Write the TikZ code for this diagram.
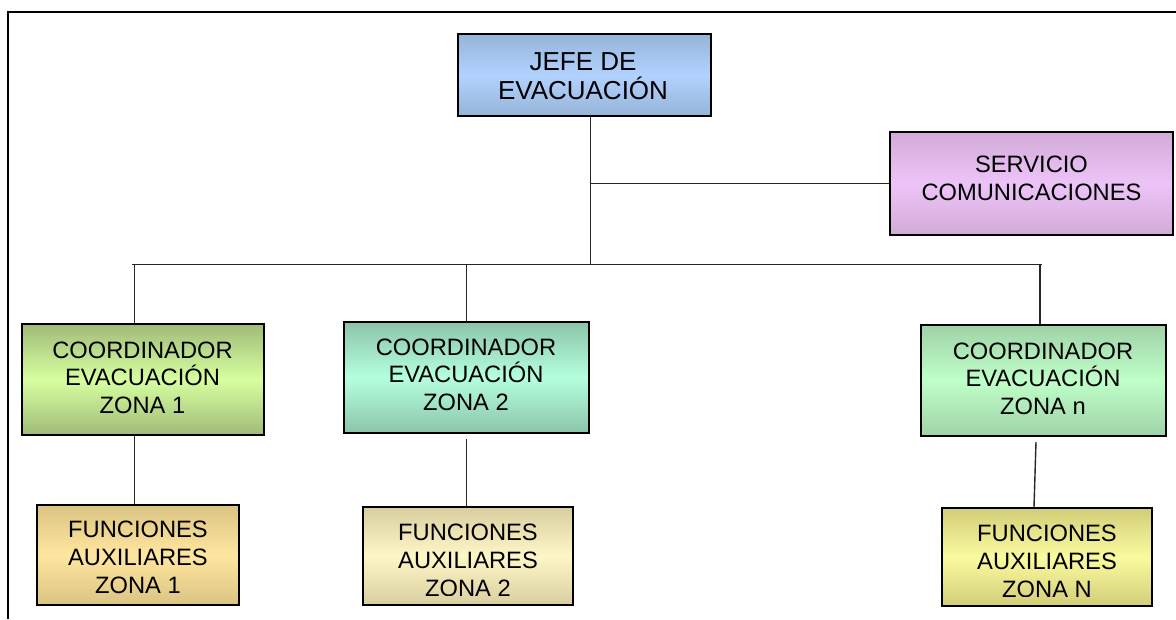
\documentclass[tikz,border=0pt]{standalone}
\usepackage{fontspec}
\setmainfont{Liberation Sans}
\definecolor{jefeE}{RGB}{150,180,216}\definecolor{jefeM}{RGB}{178,210,255}
\definecolor{servE}{RGB}{210,170,215}\definecolor{servM}{RGB}{236,196,248}
\definecolor{cAE}{RGB}{160,187,120}\definecolor{cAM}{RGB}{214,255,160}
\definecolor{cBE}{RGB}{140,196,170}\definecolor{cBM}{RGB}{180,255,222}
\definecolor{cNE}{RGB}{160,210,168}\definecolor{cNM}{RGB}{190,255,200}
\definecolor{fAE}{RGB}{218,196,130}\definecolor{fAM}{RGB}{255,230,160}
\definecolor{fBE}{RGB}{216,206,160}\definecolor{fBM}{RGB}{255,246,200}
\definecolor{fNE}{RGB}{210,206,120}\definecolor{fNM}{RGB}{250,250,160}
\tikzset{
  orgbox/.style n args={6}{draw=black, line width=1.7pt, rectangle, inner sep=0pt,
    minimum width={#3-#1}, minimum height={#4-#2},
    top color=#5, bottom color=#5, middle color=#6},
  lbl/.style={inner sep=0pt, align=center, font=\fontsize{23.7}{27.8}\selectfont},
  biglbl/.style={inner sep=0pt, align=center, font=\fontsize{26}{28.3}\selectfont},
  conn/.style={draw=black!85, line width=1.4pt},
  frame/.style={draw=black, line width=1.8pt}
}
\begin{document}
\begin{tikzpicture}[x=1pt,y=-1pt]
\useasboundingbox (0,0) rectangle (1176,619);
\draw[frame] (7.7,619) -- (7.7,12.3) -- (1176,12.3);
% boxes
\node[orgbox={458}{34}{711}{116}{jefeE}{jefeM}] (jefe) at (584.5,75) {};
\node[orgbox={890}{132}{1173}{235}{servE}{servM}] (serv) at (1031.5,183.5) {};
\node[orgbox={22}{324}{264}{435}{cAE}{cAM}] (c1) at (143,379.5) {};
\node[orgbox={344}{322}{589}{433}{cBE}{cBM}] (c2) at (466.5,377.5) {};
\node[orgbox={921}{325}{1166}{436}{cNE}{cNM}] (cn) at (1043.5,380.5) {};
\node[orgbox={37}{505}{239}{605}{fAE}{fAM}] (f1) at (138,555) {};
\node[orgbox={363}{507}{573}{605}{fBE}{fBM}] (f2) at (468,556) {};
\node[orgbox={942}{508}{1152}{606}{fNE}{fNM}] (fn) at (1047,557) {};
% texts
\node[biglbl] (jefeT) at (583,76.3) {JEFE DE\\EVACUACIÓN};
\node[lbl] (servT) at (1031.5,178.7) {SERVICIO\\COMUNICACIONES};
\node[lbl] (c1T) at (142.5,377.7) {COORDINADOR\\EVACUACIÓN\\ZONA 1};
\node[lbl] (c2T) at (466,374.7) {COORDINADOR\\EVACUACIÓN\\ZONA 2};
\node[lbl] (cnT) at (1043,378.7) {COORDINADOR\\EVACUACIÓN\\ZONA n};
\node[lbl] (f1T) at (138,557.3) {FUNCIONES\\AUXILIARES\\ZONA 1};
\begin{scope}
  \clip (f2.north west) rectangle ([yshift=10pt]f2.south east);
  \node[lbl] (f2T) at (468,560.3) {FUNCIONES\\AUXILIARES\\ZONA 2};
\end{scope}
\begin{scope}
  \clip (fn.north west) rectangle ([yshift=10pt]fn.south east);
  \node[lbl] (fnT) at (1047,561.3) {FUNCIONES\\AUXILIARES\\ZONA N};
\end{scope}
% connector points
\coordinate (busC) at (590.5,264.3);
\coordinate (busW) at (132,264.3);
\coordinate (busE) at (1042,264.3);
\coordinate (b1) at (134.5,264.3);
\coordinate (b2) at (466.5,264.3);
\coordinate (bn) at (1040,264.3);
\coordinate (cnB) at (1036,442);
\coordinate (fnT0) at (1034,508);
% connectors
\draw[conn] (busC |- jefe.south) -- (busC);
\draw[conn] (busC |- serv.west) -- (serv.west);
\draw[conn] (busW) -- (busE);
\draw[conn] (b1) -- (b1 |- c1.north);
\draw[conn] (b2) -- (b2 |- c2.north);
\draw[conn] (bn) -- (bn |- cn.north);
\draw[conn] (b1 |- c1.south) -- (b1 |- f1.north);
\draw[conn] ([yshift=-5pt]b2 |- c2.south) -- (b2 |- f2.north);
\draw[conn] (cnB) -- (fnT0 |- fn.north);
\end{tikzpicture}
\end{document}
